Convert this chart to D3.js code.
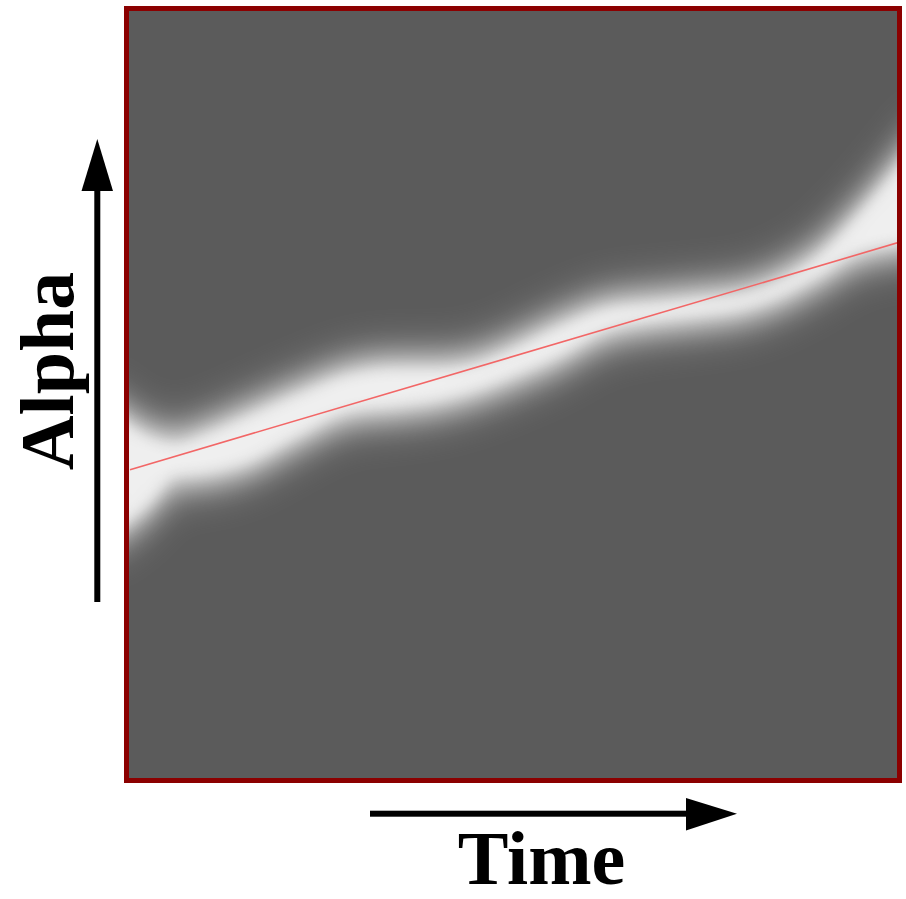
<!DOCTYPE html>
<html>

<head>
    <meta charset="UTF-8">
    <style>
        body { margin: 0; background: #fff; }
        svg { display: block; }
    </style>
</head>

<body>
    <svg></svg>
    <script src="https://d3js.org/d3.v7.min.js"></script>

    <script>

        // band of the density (time 0..100, alpha 0..100)
        let bandTime  = [0, 3, 6, 10, 16, 22, 29, 35, 40, 45, 50, 56, 62, 68, 74, 80, 85, 90, 95, 100];
        let bandUpper = [50.6, 45.4, 44.7, 46.0, 48.6, 51.2, 53.8, 54.5, 54.5, 55.1, 57.1, 60.0, 62.3, 63.0, 63.6, 64.3, 66.2, 69.5, 74.7, 85.8];
        let bandLower = [29.7, 34.9, 38.2, 38.6, 40.2, 43.4, 46.7, 47.3, 48.0, 49.3, 51.2, 53.8, 57.1, 58.4, 59.1, 60.0, 61.7, 64.3, 67.3, 68.8];

        // fitted straight line
        let fitTime  = [0, 100];
        let fitAlpha = [40.2, 69.8];

        let xLabel = "Time", yLabel = "Alpha";

        let width = 906, height = 899;
        let plot = { left: 129, top: 11, right: 897, bottom: 778 };

        let svg = d3.select("svg")
            .attr("width", width)
            .attr("height", height);

        let x = d3.scaleLinear().domain([0, 100]).range([plot.left, plot.right]);
        let y = d3.scaleLinear().domain([0, 100]).range([plot.bottom, plot.top]);

        let band = bandTime.map((t, i) => ({ t: t, hi: bandUpper[i], lo: bandLower[i] }));

        let defs = svg.append("defs");
        defs.append("clipPath").attr("id", "clip")
            .append("rect")
            .attr("x", plot.left).attr("y", plot.top)
            .attr("width", plot.right - plot.left)
            .attr("height", plot.bottom - plot.top);

        function blur(id, sd) {
            defs.append("filter").attr("id", id)
                .attr("x", "-20%").attr("y", "-60%").attr("width", "140%").attr("height", "220%")
                .append("feGaussianBlur").attr("stdDeviation", sd);
        }
        blur("blurWide", 18);
        blur("blurMid", 12);
        blur("blurCore", 7);

        svg.append("rect")
            .attr("x", plot.left).attr("y", plot.top)
            .attr("width", plot.right - plot.left)
            .attr("height", plot.bottom - plot.top)
            .attr("fill", "#5b5b5b");

        let g = svg.append("g").attr("clip-path", "url(#clip)");

        // push the end points out a bit so the blur does not fade at the frame
        let n = band.length;
        let px = (d, i) => x(d.t) + (i == 0 ? -30 : i == n - 1 ? 30 : 0);

        let area = pad => d3.area()
            .x(px)
            .y0(d => y(d.lo) + pad)
            .y1(d => y(d.hi) - pad)
            .curve(d3.curveMonotoneX);

        g.append("path")
            .datum(band)
            .attr("d", area(16))
            .attr("fill", "#ffffff")
            .attr("opacity", 0.3)
            .attr("filter", "url(#blurWide)");

        g.append("path")
            .datum(band)
            .attr("d", area(3))
            .attr("fill", "#f2f2f2")
            .attr("opacity", 0.7)
            .attr("filter", "url(#blurMid)");

        g.append("path")
            .datum(band)
            .attr("d", area(-9))
            .attr("fill", "#f6f6f6")
            .attr("opacity", 0.8)
            .attr("filter", "url(#blurCore)");

        // red fitted line
        let line = d3.line()
            .x(d => d[0])
            .y(d => d[1]);
        g.append("path")
            .datum(fitTime.map((t, i) => [x(t) + 1, y(fitAlpha[i])]))
            .attr("d", line)
            .attr("fill", "none")
            .attr("stroke", "#f26666")
            .attr("stroke-width", 1.6);

        // frame
        svg.append("rect")
            .attr("x", plot.left - 2.5).attr("y", plot.top - 2.5)
            .attr("width", plot.right - plot.left + 5)
            .attr("height", plot.bottom - plot.top + 5)
            .attr("fill", "none")
            .attr("stroke", "#8b0000")
            .attr("stroke-width", 5);

        // axis arrows
        svg.append("rect")
            .attr("x", 94.3).attr("y", 188).attr("width", 6).attr("height", 414)
            .attr("fill", "#000");
        svg.append("path")
            .attr("d", "M97.3,139 L113,191 L81.5,191 Z")
            .attr("fill", "#000");

        svg.append("rect")
            .attr("x", 370).attr("y", 810.7).attr("width", 318).attr("height", 6)
            .attr("fill", "#000");
        svg.append("path")
            .attr("d", "M737,813.7 L686,798 L686,830.5 Z")
            .attr("fill", "#000");

        svg.append("text")
            .attr("x", 541.5).attr("y", 884)
            .attr("text-anchor", "middle")
            .attr("font-family", "'Liberation Serif', 'Times New Roman', serif")
            .attr("font-weight", "bold")
            .attr("font-size", 76)
            .text(xLabel);

        svg.append("text")
            .attr("transform", "translate(73,371) rotate(-90)")
            .attr("text-anchor", "middle")
            .attr("font-family", "'Liberation Serif', 'Times New Roman', serif")
            .attr("font-weight", "bold")
            .attr("font-size", 76)
            .text(yLabel);

    </script>

</body>

</html>
